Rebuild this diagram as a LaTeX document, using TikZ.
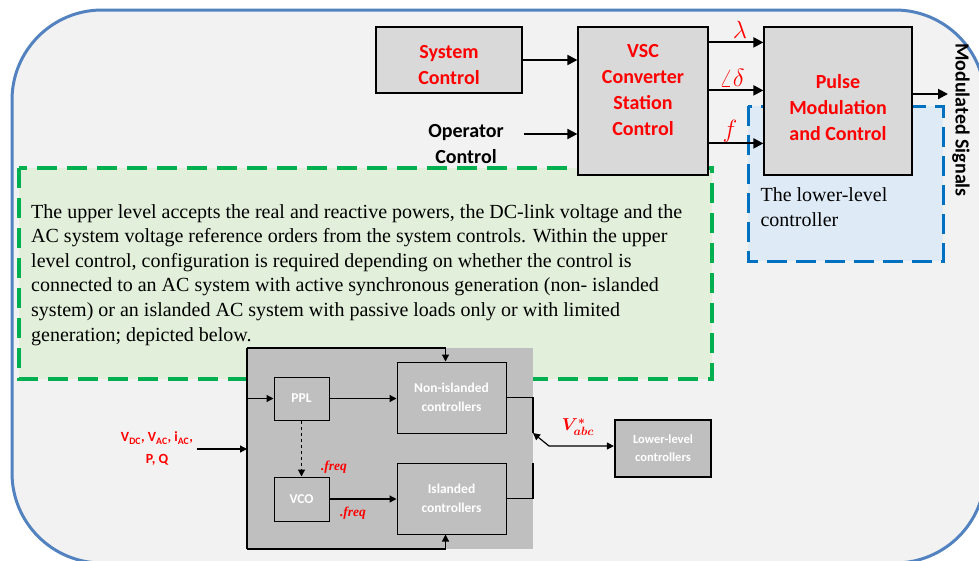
\documentclass[tikz,border=0pt]{standalone}
\usepackage{fontspec}
\setmainfont{Liberation Serif}
\setsansfont{Carlito}
\usepackage{bm}
\usetikzlibrary{arrows.meta,positioning}
\definecolor{panel}{HTML}{F2F2F2}
\definecolor{boxgray}{HTML}{D9D9D9}
\definecolor{lowgray}{HTML}{BFBFBF}
\definecolor{frameblue}{HTML}{5282C0}
\definecolor{dashblue}{HTML}{0070C0}
\definecolor{lightblue}{HTML}{DEEBF7}
\definecolor{dashgreen}{HTML}{00B050}
\definecolor{lightgreen}{HTML}{E2EFDA}
\begin{document}
\begin{tikzpicture}[x=1pt,y=-1pt,
  box/.style={draw,line width=1.2pt,fill=boxgray},
  boxtext/.style={text=red,align=center,font=\sffamily\bfseries\fontsize{20}{26}\selectfont},
  inbox/.style={draw,line width=1pt,fill=lowgray,text=white,align=center,
    font=\sffamily\bfseries\fontsize{13.5}{19}\selectfont},
  sig/.style={line width=2pt,-{Triangle[length=10pt,width=10pt]}},
  lsig/.style={line width=1.2pt,-{Triangle[length=7pt,width=7pt]}},
  lab/.style={text=red,font=\fontsize{23}{24}\selectfont},
  freqlab/.style={text=red,font=\bfseries\itshape\fontsize{13.5}{14}\selectfont}]
\useasboundingbox (0,0) rectangle (979,560);
\fill[white] (0,0) rectangle (979,560);
\clip (0,0) rectangle (979,560);
\draw[frameblue,line width=3pt,fill=panel,rounded corners=90pt] (12,10) rectangle (985,563);

% upper level
\draw[dashgreen,fill=lightgreen,line width=3.5pt,dash pattern=on 20pt off 10pt] (19,168) rectangle (712,379);
\node[anchor=north west,inner sep=0,align=left,font=\fontsize{20}{24.6}\selectfont] (uptext) at (31,204)
  {The upper level accepts the real and reactive powers, the DC-link voltage and the\\
   AC system voltage reference orders from the system controls. Within the upper\\
   level control, configuration is required depending on whether the control is\\
   connected to an AC system with active synchronous generation (non- islanded\\
   system) or an islanded AC system with passive loads only or with limited\\
   generation; depicted below.};

% lower level
\draw[dashblue,fill=lightblue,line width=3pt,dash pattern=on 20pt off 9pt] (748,106) rectangle (943,261);
\node[anchor=west,align=left,font=\fontsize{20}{25}\selectfont] (lowtext) at (757,207)
  {The lower-level\\controller};

\node[box,minimum width=146pt,minimum height=66pt,
  label={[boxtext,yshift=-5pt]center:System\\Control}] (sysctrl) at (449,60) {};
\node[box,minimum width=130pt,minimum height=148pt,
  label={[boxtext,yshift=11pt]center:VSC\\Converter\\Station\\Control}] (vsc) at (643,101) {};
\node[box,minimum width=148pt,minimum height=148pt,
  label={[boxtext,yshift=-7pt]center:Pulse\\Modulation\\and Control}] (pulse) at (838,101) {};
\node[boxtext,text=black] (oper) at (466,144) {Operator\\Control};
\coordinate (opin) at (524,134);
\coordinate (modout) at (948,94);

\draw[sig] (sysctrl.east) -- (sysctrl.east -| vsc.west);
\draw[sig] (opin) -- (opin -| vsc.west);
\draw[sig] ([yshift=-16pt]vsc.north east) -- node[lab,above=0pt,xshift=4pt]{$\lambda$} ([yshift=-16pt]pulse.north west);
\draw[sig] ([yshift=-64pt]vsc.north east) -- node[lab,above=0pt,xshift=-4pt]{$\angle\delta$} ([yshift=-64pt]pulse.north west);
\draw[sig] ([yshift=-117pt]vsc.north east) -- node[lab,above=-3pt,xshift=-6pt]{$f$} ([yshift=-117pt]pulse.north west);
\draw[sig] (pulse.east |- modout) -- (modout);
\node[rotate=-90,font=\sffamily\bfseries\fontsize{20}{22}\selectfont] (modsig) at (961,120) {Modulated Signals};

% control configuration
\fill[lowgray] (247,348) rectangle (533,549);
\coordinate (bustop) at (247,348);
\coordinate (busbot) at (247,549);
\coordinate (busin) at (247,446);
\node[inbox,minimum width=55pt,minimum height=43pt] (ppl) at (301.5,398.5) {PPL};
\node[inbox,minimum width=55pt,minimum height=44pt] (vco) at (301.5,499) {VCO};
\node[inbox,minimum width=109pt,minimum height=71pt] (nonisl) at (451.5,397.5) {Non-islanded\\controllers};
\node[inbox,minimum width=109pt,minimum height=71pt] (isl) at (451.5,498.5) {Islanded\\controllers};
\node[inbox,line width=2.2pt,minimum width=96pt,minimum height=57pt,
  font=\sffamily\bfseries\fontsize{12.5}{18}\selectfont] (lowctl) at (663,448.5) {Lower-level\\controllers};
\node[align=center,text=red,font=\sffamily\bfseries\fontsize{14}{22}\selectfont] (vin) at (157,449)
  {V\textsubscript{DC}, V\textsubscript{AC}, i\textsubscript{AC},\\P, Q};

\draw[line width=1.2pt] (bustop) -- (busbot);
\draw[lsig] (vin.east) -- (vin.east -| busin);
\draw[lsig] (busin |- ppl) -- (ppl.west);
\draw[lsig] (bustop) -| ([xshift=-6pt]nonisl.north);
\draw[lsig] (busbot) -| ([xshift=-6pt]isl.south);
\draw[lsig] (ppl) -- (ppl -| nonisl.west);
\draw[lsig] (vco) -- (vco -| isl.west);
\draw[lsig,dashed] (ppl.south) -- (vco.north);
\node[freqlab] (freqa) at (334,467) {.freq};
\node[freqlab] (freqb) at (353,513) {.freq};

\coordinate (rbusa) at (533,433);
\coordinate (rbusb) at (533,463);
\coordinate (vknee) at (549,446);
\draw[line width=1.2pt] (nonisl.east) -| (rbusa);
\draw[line width=1.2pt] (isl.east) -| (rbusb);
\draw[line width=1.2pt,{Triangle[length=7pt,width=7pt]}-{Triangle[length=7pt,width=7pt]}]
  (rbusa) -- (vknee) -- (vknee -| lowctl.west);
\node[text=red,font=\fontsize{17}{18}\selectfont] (vabc) at (578,427) {$\bm{V^{*}_{abc}}$};
\end{tikzpicture}
\end{document}
